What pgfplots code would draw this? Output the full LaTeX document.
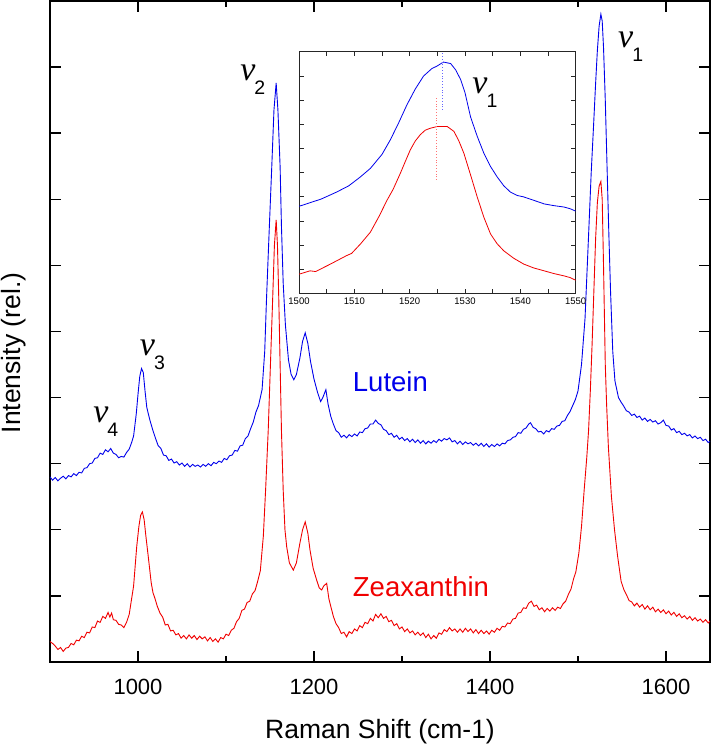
\documentclass[border=0pt]{standalone}
\usepackage{fontspec}
\setmainfont{Liberation Sans}
\newfontfamily\serf{Liberation Serif}
\usepackage{pgfplots}
\pgfplotsset{compat=1.18}
\definecolor{lblue}{RGB}{0,0,235}
\definecolor{lred}{RGB}{240,0,0}
\newcommand{\nulab}[1]{{\fontsize{34}{34}\selectfont\serf\itshape ν}\kern-1pt\raisebox{-14pt}{\fontsize{19.5}{19.5}\selectfont #1}}
\begin{document}
\begin{tikzpicture}
\path[use as bounding box] (0,0) rectangle (713pt,746pt);
\begin{axis}[
 at={(50pt,84pt)}, anchor=south west,
 width=660pt, height=661pt, scale only axis,
 xmin=900, xmax=1650, ymin=0, ymax=10,
 xtick={1000,1200,1400,1600}, minor xtick={1100,1300,1500},
 ytick={1,...,9}, yticklabels={},
 tick align=inside,
 major tick length=11pt, minor tick length=6pt,
 every tick/.style={black, line width=1.4pt},
 axis line style={line width=1.6pt},
 xticklabel style={font=\fontsize{22}{22}\selectfont, anchor=base, yshift=-33pt},
 /pgf/number format/assume math mode=true,
 /pgf/number format/1000 sep={},
]
\addplot[lblue, line width=0.9pt] coordinates {
(900,2.80)(903,2.75)(906,2.79)(909,2.74)(912,2.78)(915,2.81)(918,2.77)(921,2.82)(924,2.80)(927,2.85)(930,2.82)(933,2.87)(936,2.86)(939,2.93)(942,2.94)(945,3.00)(948,3.01)(951,3.08)(954,3.09)(957,3.16)(960,3.14)(963,3.21)(966,3.18)(969,3.23)(972,3.16)(975,3.14)(978,3.09)(981,3.11)(984,3.10)(987,3.17)(990,3.22)(993,3.33)
(995,3.42)(998,3.75)(1000,4.05)(1002,4.32)(1004,4.44)(1006,4.38)(1008,4.10)(1010,3.85)(1013.5,3.66)(1017,3.50)
(1020,3.38)(1023,3.27)(1026,3.23)(1029,3.13)(1032,3.12)(1035,3.05)(1038,3.07)(1041,3.01)(1044,3.03)(1047,2.98)(1050,3.01)(1053,2.96)(1056,3.00)(1059,2.95)(1062,2.99)(1065,2.96)(1068,2.98)(1071,2.95)(1074,2.99)(1077,2.96)(1080,3.00)(1083,2.97)(1086,3.02)(1089,3.00)(1092,3.04)(1095,3.02)(1098,3.08)(1101,3.06)(1104,3.12)(1107,3.13)(1110,3.20)(1113,3.19)(1116,3.27)(1119,3.28)(1122,3.38)(1125,3.42)(1128,3.53)(1131,3.63)(1134,3.78)(1137,3.88)
(1141,4.12)(1144,4.70)(1146,5.48)(1149,6.50)(1152,7.49)(1154.5,8.35)(1157,8.76)(1159,8.35)(1161.5,7.49)(1163,6.60)(1165,5.73)(1167.5,5.10)(1171,4.57)(1174,4.35)(1177,4.27)(1180,4.35)(1184,4.60)(1187,4.85)(1190,4.98)(1193,4.82)(1196,4.55)(1200,4.28)(1204,4.08)(1207.5,3.94)(1210,4.00)(1213.5,4.12)(1216,3.90)(1219,3.72)
(1222,3.60)(1225,3.50)(1228,3.47)(1231,3.40)(1234,3.43)(1237,3.39)(1240,3.44)(1243,3.41)(1246,3.45)(1249,3.42)(1252,3.48)(1255,3.47)(1258,3.53)(1261,3.54)(1264,3.60)(1267,3.60)(1270,3.66)(1273,3.61)(1276,3.59)(1279,3.52)(1282,3.50)(1285,3.44)(1288,3.46)(1291,3.40)(1294,3.43)(1297,3.37)(1300,3.40)(1303,3.35)(1306,3.38)(1309,3.33)(1312,3.37)(1315,3.32)(1318,3.36)(1321,3.31)(1324,3.35)(1327,3.30)(1330,3.34)(1333,3.31)(1336,3.35)(1339,3.32)(1342,3.37)(1345,3.34)(1348,3.38)(1351,3.36)(1354,3.39)(1357,3.33)(1360,3.35)(1363,3.30)(1366,3.34)(1369,3.29)(1372,3.33)(1375,3.30)(1378,3.32)(1381,3.28)(1384,3.31)(1387,3.27)(1390,3.31)(1393,3.26)(1396,3.30)(1399,3.25)(1402,3.29)(1405,3.26)(1408,3.30)(1411,3.27)(1414,3.31)(1417,3.30)(1420,3.35)(1423,3.36)(1426,3.40)(1429,3.41)(1432,3.47)(1435,3.46)(1438,3.52)(1441,3.54)(1444,3.60)(1446,3.62)(1449,3.55)(1452,3.53)(1455,3.48)(1458,3.49)(1461,3.45)(1464,3.50)(1467,3.48)(1470,3.53)(1473,3.52)(1476,3.57)(1479,3.58)(1482,3.64)(1485,3.65)(1488,3.73)(1491,3.79)(1494,3.88)(1497,3.97)
(1500,4.10)(1504,4.50)(1508,5.20)(1512,6.45)(1515,7.40)(1518,8.20)(1520,8.75)(1522,9.25)(1524,9.62)(1526,9.80)(1527.5,9.70)(1529,9.30)(1531,8.50)(1533,7.50)(1535,6.50)(1537,5.60)(1539.5,4.70)(1542,4.25)
(1546,4.00)(1549,3.93)(1552,3.87)(1555,3.80)(1558,3.78)(1561,3.73)(1564,3.75)(1567,3.70)(1570,3.72)(1573,3.66)(1576,3.69)(1579,3.64)(1582,3.67)(1585,3.63)(1588,3.65)(1591,3.60)(1594,3.62)(1597,3.66)(1600,3.58)(1603,3.57)(1606,3.51)(1609,3.53)(1612,3.47)(1615,3.49)(1618,3.44)(1621,3.46)(1624,3.42)(1627,3.44)(1630,3.39)(1633,3.42)(1636,3.38)(1639,3.40)(1642,3.35)(1645,3.37)(1648,3.32)(1650,3.34)
};
\addplot[lred, line width=0.9pt] coordinates {
(900,0.31)(903,0.28)(906,0.24)(909,0.19)(912,0.22)(915,0.16)(918,0.21)(921,0.22)(924,0.28)(927,0.26)(930,0.33)(933,0.32)(936,0.39)(939,0.37)(942,0.45)(945,0.44)(948,0.53)(951,0.52)(954,0.62)(957,0.60)(960,0.69)(963,0.66)(966,0.75)(968,0.68)(970,0.74)(972,0.64)(975,0.63)(978,0.57)(981,0.56)(984,0.52)(987,0.60)(990,0.72)
(995,1.15)(998.5,1.74)(1001,2.05)(1003,2.22)(1005,2.27)(1007,2.15)(1009,1.90)(1011.7,1.59)(1015,1.20)(1017,1.05)
(1019.3,0.96)(1022,0.84)(1025,0.74)(1028,0.68)(1031,0.56)(1034,0.57)(1037,0.47)(1040,0.48)(1043,0.41)(1046,0.43)(1049,0.36)(1052,0.40)(1055,0.35)(1058,0.41)(1061,0.36)(1064,0.40)(1067,0.34)(1070,0.39)(1073,0.35)(1076,0.38)(1079,0.32)(1082,0.37)(1085,0.31)(1088,0.35)(1091,0.30)(1094,0.37)(1097,0.35)(1100,0.42)(1103,0.40)(1106,0.48)(1109,0.51)(1112,0.61)(1115,0.66)(1118,0.78)(1121,0.80)(1124,0.90)(1127,0.92)(1130,1.03)(1133,1.08)(1136,1.22)(1139,1.38)
(1142.4,1.90)(1145,2.60)(1148,3.51)(1150.5,4.50)(1153,5.48)(1155,6.30)(1157,6.69)(1158.5,6.30)(1160,5.48)(1161.5,4.50)(1163,3.51)(1165,2.60)(1167,2.00)(1169,1.74)(1172,1.50)(1176.5,1.39)(1180,1.50)(1184,1.80)(1187,2.00)(1190,2.12)(1193,1.95)(1195.5,1.69)(1199,1.42)(1203,1.24)(1206,1.12)(1208.7,1.09)(1211,1.15)(1214.4,1.19)(1217,0.95)
(1222,0.69)(1225,0.58)(1228,0.52)(1231,0.43)(1234,0.45)(1237,0.38)(1240,0.46)(1243,0.43)(1246,0.50)(1249,0.47)(1252,0.55)(1255,0.52)(1258,0.60)(1261,0.58)(1264,0.66)(1267,0.62)(1270,0.72)(1273,0.67)(1276,0.73)(1279,0.66)(1282,0.69)(1285,0.61)(1288,0.63)(1291,0.55)(1294,0.58)(1297,0.50)(1300,0.53)(1303,0.46)(1306,0.50)(1309,0.44)(1312,0.47)(1315,0.41)(1318,0.45)(1321,0.40)(1324,0.44)(1327,0.37)(1330,0.42)(1333,0.35)(1336,0.40)(1339,0.36)(1342,0.44)(1345,0.42)(1348,0.49)(1351,0.46)(1354,0.52)(1357,0.47)(1360,0.50)(1363,0.45)(1366,0.50)(1369,0.45)(1372,0.51)(1375,0.46)(1378,0.50)(1381,0.44)(1384,0.49)(1387,0.43)(1390,0.48)(1393,0.43)(1396,0.47)(1399,0.42)(1402,0.48)(1405,0.45)(1408,0.51)(1411,0.48)(1414,0.54)(1417,0.53)(1420,0.59)(1423,0.58)(1426,0.65)(1429,0.66)(1432,0.74)(1435,0.75)(1438,0.82)(1441,0.81)(1444,0.89)(1447,0.92)(1450,0.84)(1453,0.86)(1456,0.79)(1459,0.82)(1462,0.76)(1465,0.81)(1468,0.77)(1471,0.82)(1474,0.78)(1477,0.83)(1480,0.81)(1483,0.88)(1486,0.92)(1489,1.02)(1492,1.10)(1495,1.26)(1497.5,1.36)
(1501,1.65)(1504,2.05)(1507,2.60)(1510,3.10)(1512,3.50)(1514,4.10)(1516,4.80)(1518,5.60)(1520,6.40)(1522,6.95)(1524,7.20)(1526,7.27)(1527.5,7.00)(1529,6.00)(1531,4.50)(1532.5,3.90)(1534.5,3.26)(1538,2.50)(1541.5,2.00)(1545,1.60)
(1549,1.22)(1552,1.10)(1555,1.02)(1558,0.93)(1561,0.91)(1564,0.85)(1567,0.89)(1570,0.83)(1573,0.87)(1576,0.80)(1579,0.85)(1582,0.79)(1585,0.83)(1588,0.76)(1591,0.80)(1594,0.75)(1597,0.79)(1600,0.73)(1603,0.77)(1606,0.71)(1609,0.75)(1612,0.69)(1615,0.73)(1618,0.67)(1621,0.70)(1624,0.65)(1627,0.69)(1630,0.63)(1633,0.67)(1636,0.62)(1639,0.65)(1642,0.60)(1645,0.64)(1648,0.59)(1650,0.62)
};
\node[anchor=base west, inner sep=0] at (axis cs:1116,8.80) {\nulab{2}};
\node[anchor=base west, inner sep=0] at (axis cs:1545.5,9.30) {\nulab{1}};
\node[anchor=base west, inner sep=0] at (axis cs:1002,4.64) {\nulab{3}};
\node[anchor=base west, inner sep=0] at (axis cs:949,3.62) {\nulab{4}};
\node[anchor=base west, inner sep=0, text=lblue, font=\fontsize{27.5}{27.5}\selectfont] at (axis cs:1244,4.09) {Lutein};
\node[anchor=base west, inner sep=0, text=lred, font=\fontsize{27.5}{27.5}\selectfont] at (axis cs:1244,0.99) {Zeaxanthin};
\end{axis}
\begin{axis}[
 at={(299pt,452.7pt)}, anchor=south west,
 width=276.7pt, height=241.6pt, scale only axis,
 xmin=1500, xmax=1550, ymin=0, ymax=10,
 xtick={1500,1510,...,1550}, minor xtick={1505,1515,...,1545},
 ytick={1,...,9}, yticklabels={},
 tick align=inside,
 major tick length=4.5pt, minor tick length=4.5pt,
 every tick/.style={black!85, line width=0.6pt},
 axis line style={line width=0.8pt, black!85},
 axis background/.style={fill=white},
 xticklabel style={font=\fontsize{9.5}{9.5}\selectfont, anchor=base, yshift=-11.7pt},
 /pgf/number format/assume math mode=true,
 /pgf/number format/1000 sep={},
]
\addplot[lblue, line width=0.8pt] coordinates {
(1500,3.60)(1502,3.75)(1504,3.90)(1506.8,4.19)(1509,4.45)(1511,4.80)(1512.9,5.17)(1515,5.75)(1516.5,6.35)(1518,7.05)(1519.5,7.80)(1521,8.45)(1522.5,8.99)(1524,9.30)(1524.9,9.40)(1526.1,9.57)(1527.4,9.51)(1528.3,9.25)(1529.2,8.85)(1530,8.30)(1531,7.30)(1532.2,6.50)(1533.4,5.80)(1534.6,5.25)(1535.8,4.82)(1537,4.45)(1538.2,4.19)(1539.4,4.05)(1540.6,3.99)(1542.4,3.85)(1544.3,3.70)(1546,3.63)(1547.9,3.57)(1549,3.50)(1550,3.40)
};
\addplot[lred, line width=0.8pt] coordinates {
(1500,0.79)(1501,0.86)(1502,0.93)(1503,0.90)(1505.6,1.20)(1508.6,1.56)(1509.5,1.65)(1511.1,2.04)(1512.9,2.53)(1514.5,3.20)(1515.9,3.85)(1517,4.30)(1518.3,4.96)(1519.2,5.45)(1520.1,5.93)(1521,6.30)(1521.9,6.56)(1522.8,6.75)(1523.7,6.83)(1524.9,6.90)(1526.8,6.90)(1528,6.70)(1528.9,6.30)(1529.8,5.79)(1531,4.90)(1532.2,3.99)(1533.4,3.15)(1534.6,2.46)(1535.8,2.05)(1537,1.76)(1538.8,1.45)(1540.6,1.21)(1542.4,1.05)(1544.3,0.93)(1546,0.82)(1547.9,0.72)(1549,0.65)(1550,0.54)
};
\addplot[blue!60, dotted, line width=0.8pt] coordinates {(1525.9,7.59)(1525.9,10)};
\addplot[red!55, dotted, line width=0.8pt] coordinates {(1524.9,4.69)(1524.9,8.07)};
\node[anchor=base west, inner sep=0] at (axis cs:1531.3,8.29) {\nulab{1}};
\end{axis}
\node[rotate=90, anchor=north, inner sep=0, font=\fontsize{26.5}{26.5}\selectfont] at (1pt,393pt) {Intensity (rel.)};
\node[anchor=base, inner sep=0, font=\fontsize{26.5}{26.5}\selectfont] at (380pt,7.7pt) {Raman Shift (cm-1)};
\end{tikzpicture}
\end{document}
